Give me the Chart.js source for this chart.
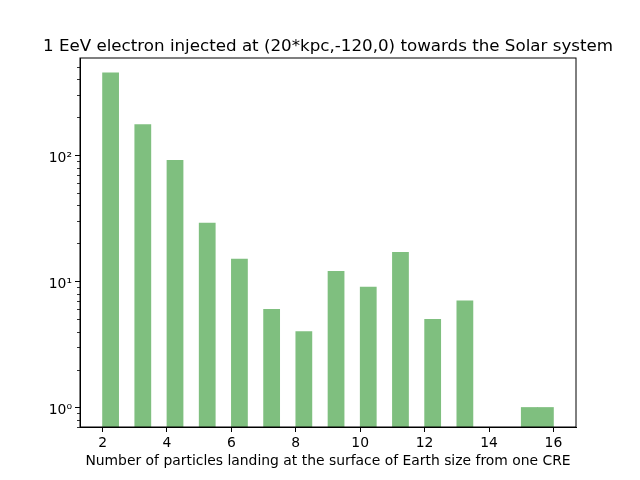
<!DOCTYPE html>
<html>
<head>
<meta charset="utf-8">
<script src="https://cdn.jsdelivr.net/npm/chart.js@4"></script>
<style>
  html, body { margin: 0; padding: 0; background: #fff; }
  #wrap { width: 640px; height: 480px; }
</style>
</head>
<body>
<div id="wrap"><canvas id="chart"></canvas></div>
<script>
// histogram bins (left edge, width 0.5) and their counts
const binLeft = [2, 3, 4, 5, 6, 7, 8, 9, 10, 11, 12, 13, 15, 15.5];
const counts = [450, 175, 91, 29, 15, 6, 4, 12, 9, 17, 5, 7, 1, 1];
const binWidth = 0.5;

const xTicks = [2, 4, 6, 8, 10, 12, 14, 16];
const yTicks = [1, 10, 100];
const yTickLabels = ['10\u2070', '10\u00b9', '10\u00b2'];

const titleText = '1 EeV electron injected at (20*kpc,-120,0) towards the Solar system';
const FONT = 'DejaVu Sans';

// title centred over the axes, minor log ticks and the box round the plot
const decorations = {
  id: 'decorations',
  afterDraw(chart) {
    const { ctx, chartArea } = chart;
    const y = chart.scales.y;
    ctx.save();
    ctx.strokeStyle = '#000';
    ctx.lineWidth = 0.8;
    for (let d = -1; d <= 2; d++) {
      for (let m = 2; m <= 9; m++) {
        const v = m * Math.pow(10, d);
        if (v < y.min || v > y.max) continue;
        const py = Math.round(y.getPixelForValue(v)) + 0.5;
        ctx.beginPath();
        ctx.moveTo(chartArea.left, py);
        ctx.lineTo(chartArea.left - 3, py);
        ctx.stroke();
      }
    }
    ctx.lineWidth = 1;
    ctx.strokeRect(chartArea.left, chartArea.top, chartArea.right - chartArea.left, chartArea.bottom - chartArea.top);

    ctx.fillStyle = '#000';
    ctx.font = '16.7px "' + FONT + '"';
    ctx.textAlign = 'center';
    ctx.textBaseline = 'alphabetic';
    ctx.fillText(titleText, (chartArea.left + chartArea.right) / 2, chartArea.top - 7.5);
    ctx.restore();
  }
};

new Chart(document.getElementById('chart'), {
  type: 'bar',
  data: {
    datasets: [{
      data: binLeft.map((x, i) => ({ x: x + binWidth / 2, y: counts[i] })),
      // green at alpha 0.5 over white, kept opaque so the bin edges stay clean
      backgroundColor: '#7fbf7f',
      borderWidth: 0,
      barPercentage: 1,
      categoryPercentage: 1
    }]
  },
  options: {
    responsive: true,
    maintainAspectRatio: false,
    animation: false,
    devicePixelRatio: 1,
    layout: { padding: { left: 0, right: 64, top: 58, bottom: 0 } },
    plugins: {
      legend: { display: false },
      tooltip: { enabled: false },
      title: { display: false }
    },
    scales: {
      x: {
        type: 'linear',
        offset: false,
        min: 1.3,
        max: 16.7,
        afterBuildTicks: (scale) => { scale.ticks = xTicks.map(v => ({ value: v })); },
        afterFit: (scale) => { scale.height = 53; },
        grid: { display: true, offset: false, drawOnChartArea: false, tickLength: 5, tickColor: '#000' },
        border: { display: true, color: '#000', width: 1 },
        ticks: { color: '#000', font: { family: FONT, size: 13.9 }, padding: 3, maxRotation: 0 },
        title: {
          display: true,
          text: 'Number of particles landing at the surface of Earth size from one CRE',
          color: '#000',
          font: { family: FONT, size: 13.9 },
          padding: { top: 0, bottom: 10 }
        }
      },
      y: {
        type: 'logarithmic',
        min: 0.735,
        max: 591,
        afterBuildTicks: (scale) => { scale.ticks = yTicks.map(v => ({ value: v })); },
        afterFit: (scale) => { scale.width = 80; },
        grid: { display: true, drawOnChartArea: false, tickLength: 5, tickColor: '#000' },
        border: { display: true, color: '#000', width: 1 },
        ticks: {
          color: '#000',
          font: { family: FONT, size: 13.9 },
          padding: 3,
          labelOffset: 3,
          callback: (v) => yTickLabels[yTicks.indexOf(v)] ?? ''
        }
      }
    }
  },
  plugins: [decorations]
});
</script>
</body>
</html>
